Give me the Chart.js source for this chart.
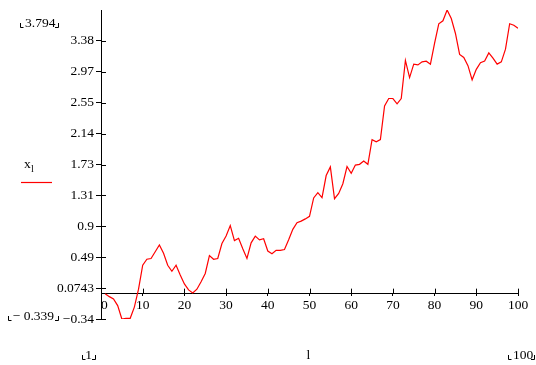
<!DOCTYPE html>
<html>
<head>
<meta charset="utf-8">
<script src="https://cdn.jsdelivr.net/npm/chart.js@4/dist/chart.umd.min.js"></script>
<style>
  html, body { margin: 0; padding: 0; background: #fff; }
  #wrap { position: relative; width: 536px; height: 365px; }
</style>
</head>
<body>
<div id="wrap"><canvas id="plot" width="536" height="365"></canvas></div>
<script>
// range variable l = 1..100
const lValues = [
  1, 2, 3, 4, 5, 6, 7, 8, 9, 10,
  11, 12, 13, 14, 15, 16, 17, 18, 19, 20,
  21, 22, 23, 24, 25, 26, 27, 28, 29, 30,
  31, 32, 33, 34, 35, 36, 37, 38, 39, 40,
  41, 42, 43, 44, 45, 46, 47, 48, 49, 50,
  51, 52, 53, 54, 55, 56, 57, 58, 59, 60,
  61, 62, 63, 64, 65, 66, 67, 68, 69, 70,
  71, 72, 73, 74, 75, 76, 77, 78, 79, 80,
  81, 82, 83, 84, 85, 86, 87, 88, 89, 90,
  91, 92, 93, 94, 95, 96, 97, 98, 99, 100
];

// x_l
const xValues = [
  0.00, -0.04, -0.07, -0.16, -0.339, -0.33, -0.33, -0.18, 0.06, 0.38,
  0.46, 0.47, 0.56, 0.65, 0.54, 0.38, 0.30, 0.38, 0.25, 0.13,
  0.05, 0.01, 0.06, 0.16, 0.27, 0.51, 0.46, 0.47, 0.67, 0.77,
  0.91, 0.71, 0.74, 0.60, 0.47, 0.68, 0.77, 0.72, 0.735, 0.57,
  0.535, 0.58, 0.58, 0.59, 0.72, 0.86, 0.95, 0.97, 1.00, 1.035,
  1.28, 1.35, 1.285, 1.58, 1.695, 1.27, 1.34, 1.47, 1.70, 1.61,
  1.72, 1.73, 1.775, 1.73, 2.06, 2.03, 2.06, 2.51, 2.61, 2.61,
  2.54, 2.61, 3.12, 2.89, 3.07, 3.06, 3.10, 3.11, 3.07, 3.35,
  3.61, 3.65, 3.794, 3.68, 3.48, 3.20, 3.16, 3.05, 2.86, 3.00,
  3.09, 3.11, 3.22, 3.15, 3.07, 3.10, 3.27, 3.61, 3.59, 3.55
];

const yTickValues = [-0.339, 0.0743, 0.4876, 0.9009, 1.3142, 1.7275, 2.1408, 2.5541, 2.9674, 3.3807];
const yTickLabels = ['\u22120.34', '0.0743', '0.49', '0.9', '1.31', '1.73', '2.14', '2.55', '2.97', '3.38'];
const xTickValues = [0, 10, 20, 30, 40, 50, 60, 70, 80, 90, 100];
const xTickLabels = ['  0', '10', '20', '30', '40', '50', '60', '70', '80', '90', '100'];

const yLimits = ['3.794', '\u2212 0.339'];
const xLimits = ['1', '100'];
const xAxisName = 'l';
const seriesName = 'x';
const seriesSub = 'l';

const FONT = '"Liberation Serif", "Times New Roman", serif';
const FSIZE = 13.5;
const RED = '#ff0000';

function corner(ctx, x, y, left) {
  ctx.beginPath();
  if (left) {
    ctx.moveTo(x + 0.5, y - 4);
    ctx.lineTo(x + 0.5, y + 0.5);
    ctx.lineTo(x + 3.5, y + 0.5);
  } else {
    ctx.moveTo(x - 3, y + 0.5);
    ctx.lineTo(x + 0.5, y + 0.5);
    ctx.lineTo(x + 0.5, y - 4);
  }
  ctx.stroke();
}

const mathcadBits = {
  id: 'mathcadBits',
  afterDraw(chart) {
    const ctx = chart.ctx;
    const xs = chart.scales.x;
    const ys = chart.scales.y;
    const x0 = ys.right;
    const y0 = ys.getPixelForValue(0);
    ctx.save();
    ctx.strokeStyle = '#000';
    ctx.lineWidth = 1;

    // tick stubs on the inner side of both axes
    ctx.beginPath();
    yTickValues.forEach(v => {
      const py = Math.round(ys.getPixelForValue(v)) + 0.5;
      ctx.moveTo(x0, py);
      ctx.lineTo(x0 + 5, py);
    });
    xTickValues.slice(1).forEach(v => {
      const px = Math.round(xs.getPixelForValue(v)) + 0.5;
      ctx.moveTo(px, y0);
      ctx.lineTo(px, y0 - 5);
    });
    ctx.stroke();

    ctx.fillStyle = '#000';
    ctx.font = FSIZE + 'px ' + FONT;
    ctx.textBaseline = 'alphabetic';

    // y limits
    ctx.textAlign = 'left';
    ctx.fillText(yLimits[0], 25, 27);
    corner(ctx, 20, 27, true);
    corner(ctx, 58, 27, false);
    ctx.textAlign = 'right';
    ctx.fillText(yLimits[1], 54, 320);
    corner(ctx, 8, 320, true);
    corner(ctx, 58, 320, false);

    // x limits and axis name
    ctx.textAlign = 'center';
    ctx.fillText(xLimits[0], 88.5, 359);
    corner(ctx, 82, 359, true);
    corner(ctx, 95, 359, false);
    ctx.fillText(xAxisName, 308.5, 359);
    ctx.textAlign = 'left';
    ctx.fillText(xLimits[1], 513, 359);
    corner(ctx, 508, 359, true);
    corner(ctx, 534, 359, false);

    // legend
    ctx.fillText(seriesName, 24, 168);
    ctx.font = '10px ' + FONT;
    ctx.fillText(seriesSub, 31, 172);
    ctx.strokeStyle = RED;
    ctx.lineWidth = 1.2;
    ctx.beginPath();
    ctx.moveTo(21, 182.5);
    ctx.lineTo(52, 182.5);
    ctx.stroke();
    ctx.restore();
  }
};

new Chart(document.getElementById('plot'), {
  type: 'line',
  data: {
    datasets: [{
      label: seriesName + seriesSub,
      data: lValues.map((l, i) => ({ x: l, y: xValues[i] })),
      borderColor: RED,
      borderWidth: 1.2,
      pointRadius: 0,
      tension: 0,
      fill: false
    }]
  },
  options: {
    responsive: false,
    animation: false,
    devicePixelRatio: 1,
    layout: { padding: { left: 0, right: 18, top: 10, bottom: 46 } },
    plugins: { legend: { display: false }, tooltip: { enabled: false } },
    scales: {
      x: {
        type: 'linear',
        position: { y: 0 },
        min: 0,
        max: 100,
        afterBuildTicks: s => { s.ticks = xTickValues.map(v => ({ value: v })); },
        ticks: {
          autoSkip: false,
          maxRotation: 0,
          padding: 2,
          color: '#000',
          font: { family: FONT, size: FSIZE },
          callback: (v, i) => xTickLabels[i]
        },
        grid: { drawOnChartArea: false, drawTicks: true, tickLength: 2, color: '#000' },
        border: { display: true, color: '#000', width: 1 }
      },
      y: {
        type: 'linear',
        position: 'left',
        min: -0.339,
        max: 3.794,
        afterBuildTicks: s => { s.ticks = yTickValues.map(v => ({ value: v })); },
        afterFit: s => { s.width = 101; s.paddingTop = 0; s.paddingBottom = 0; },
        ticks: {
          autoSkip: false,
          padding: 2,
          color: '#000',
          font: { family: FONT, size: FSIZE },
          callback: (v, i) => yTickLabels[i]
        },
        grid: { drawOnChartArea: false, drawTicks: true, tickLength: 5, color: '#000' },
        border: { display: true, color: '#000', width: 1 }
      }
    }
  },
  plugins: [mathcadBits]
});
</script>
</body>
</html>
